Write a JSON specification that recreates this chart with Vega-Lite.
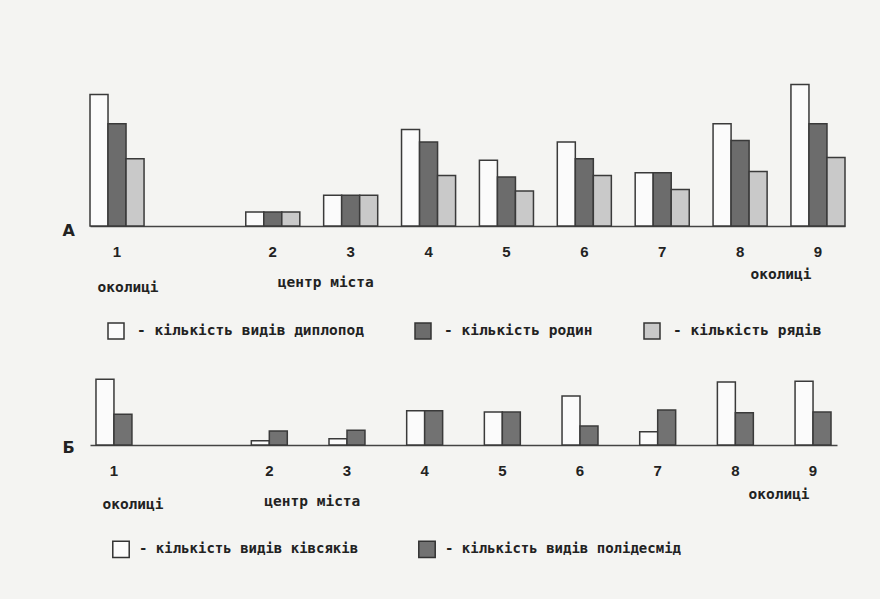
{
  "$schema": "https://vega.github.io/schema/vega-lite/v6.json",
  "background": "#f4f4f2",
  "padding": {"left": 62, "top": 79, "right": 35, "bottom": 38},
  "spacing": 33,
  "datasets": {
    "A": [
      {"site": "1", "series": "кількість видів диплопод", "value": 9.4},
      {"site": "1", "series": "кількість родин", "value": 7.3},
      {"site": "1", "series": "кількість рядів", "value": 4.8},
      {"site": "2", "series": "кількість видів диплопод", "value": 1.0},
      {"site": "2", "series": "кількість родин", "value": 1.0},
      {"site": "2", "series": "кількість рядів", "value": 1.0},
      {"site": "3", "series": "кількість видів диплопод", "value": 2.2},
      {"site": "3", "series": "кількість родин", "value": 2.2},
      {"site": "3", "series": "кількість рядів", "value": 2.2},
      {"site": "4", "series": "кількість видів диплопод", "value": 6.9},
      {"site": "4", "series": "кількість родин", "value": 6.0},
      {"site": "4", "series": "кількість рядів", "value": 3.6},
      {"site": "5", "series": "кількість видів диплопод", "value": 4.7},
      {"site": "5", "series": "кількість родин", "value": 3.5},
      {"site": "5", "series": "кількість рядів", "value": 2.5},
      {"site": "6", "series": "кількість видів диплопод", "value": 6.0},
      {"site": "6", "series": "кількість родин", "value": 4.8},
      {"site": "6", "series": "кількість рядів", "value": 3.6},
      {"site": "7", "series": "кількість видів диплопод", "value": 3.8},
      {"site": "7", "series": "кількість родин", "value": 3.8},
      {"site": "7", "series": "кількість рядів", "value": 2.6},
      {"site": "8", "series": "кількість видів диплопод", "value": 7.3},
      {"site": "8", "series": "кількість родин", "value": 6.1},
      {"site": "8", "series": "кількість рядів", "value": 3.9},
      {"site": "9", "series": "кількість видів диплопод", "value": 10.1},
      {"site": "9", "series": "кількість родин", "value": 7.3},
      {"site": "9", "series": "кількість рядів", "value": 4.9}
    ],
    "B": [
      {"site": "1", "series": "кількість видів ківсяків", "value": 9.4},
      {"site": "1", "series": "кількість видів полідесмід", "value": 4.4},
      {"site": "2", "series": "кількість видів ківсяків", "value": 0.6},
      {"site": "2", "series": "кількість видів полідесмід", "value": 2.0},
      {"site": "3", "series": "кількість видів ківсяків", "value": 0.9},
      {"site": "3", "series": "кількість видів полідесмід", "value": 2.1},
      {"site": "4", "series": "кількість видів ківсяків", "value": 4.9},
      {"site": "4", "series": "кількість видів полідесмід", "value": 4.9},
      {"site": "5", "series": "кількість видів ківсяків", "value": 4.7},
      {"site": "5", "series": "кількість видів полідесмід", "value": 4.7},
      {"site": "6", "series": "кількість видів ківсяків", "value": 7.0},
      {"site": "6", "series": "кількість видів полідесмід", "value": 2.7},
      {"site": "7", "series": "кількість видів ківсяків", "value": 1.9},
      {"site": "7", "series": "кількість видів полідесмід", "value": 5.0},
      {"site": "8", "series": "кількість видів ківсяків", "value": 9.0},
      {"site": "8", "series": "кількість видів полідесмід", "value": 4.6},
      {"site": "9", "series": "кількість видів ківсяків", "value": 9.1},
      {"site": "9", "series": "кількість видів полідесмід", "value": 4.7}
    ],
    "notes": [
      {"site": "1", "note": "околиці"},
      {"site": "2", "note": "центр міста"},
      {"site": "9", "note": "околиці"}
    ]
  },
  "vconcat": [
    {
      "width": 755,
      "height": 147,
      "layer": [
        {
          "data": {"name": "A"},
          "mark": {"type": "bar", "stroke": "#3a3a3a", "strokeWidth": 1.5},
          "encoding": {
            "x": {
              "field": "site", "type": "nominal",
              "scale": {"domain": ["1", "gap", "2", "3", "4", "5", "6", "7", "8", "9"], "paddingInner": 0.306, "paddingOuter": 0},
              "axis": {"title": null, "ticks": false, "labelAngle": 0, "labelPadding": 18, "labelFont": "Liberation Sans", "labelFontWeight": "bold", "labelFontSize": 15, "labelColor": "#222", "domainColor": "#444", "domainWidth": 1.6, "labelExpr": "datum.value === 'gap' ? '' : datum.value"}
            },
            "xOffset": {"field": "series", "type": "nominal", "scale": {"domain": ["кількість видів диплопод", "кількість родин", "кількість рядів"], "paddingInner": 0, "paddingOuter": 0}},
            "y": {
              "field": "value", "type": "quantitative",
              "scale": {"domain": [0, 10.5], "nice": false},
              "axis": {"title": "А", "labels": false, "ticks": false, "domain": false, "grid": false, "titleAngle": 0, "titleAlign": "left", "titleBaseline": "middle", "titleX": -28, "titleY": 151, "titleFont": "DejaVu Sans", "titleFontSize": 16, "titleFontWeight": "bold", "titleColor": "#222"}
            },
            "color": {
              "field": "series", "type": "nominal",
              "scale": {"domain": ["кількість видів диплопод", "кількість родин", "кількість рядів"], "range": ["#fbfbfb", "#6c6c6c", "#c9c9c9"]},
              "legend": {"title": null, "orient": "none", "legendX": 17, "legendY": 243, "direction": "horizontal", "symbolType": "square", "symbolSize": 256, "symbolStrokeColor": "#333", "symbolStrokeWidth": 1.5, "symbolOpacity": 1, "labelFont": "DejaVu Sans Mono", "labelFontWeight": "bold", "labelFontSize": 14.5, "labelColor": "#222", "labelLimit": 500, "labelOffset": 12, "columnPadding": 48, "padding": 0, "labelExpr": "'- ' + datum.label"}
            }
          }
        },
        {
          "data": {"name": "notes"},
          "transform": [{"filter": "datum.site == '1'"}],
          "mark": {"type": "text", "dx": 11, "font": "DejaVu Sans Mono", "fontWeight": "bold", "fontSize": 14.5, "color": "#222", "baseline": "middle"},
          "encoding": {"x": {"field": "site", "type": "nominal"}, "y": {"datum": -4.4}, "text": {"field": "note"}}
        },
        {
          "data": {"name": "notes"},
          "transform": [{"filter": "datum.site == '2'"}],
          "mark": {"type": "text", "dx": 53, "font": "DejaVu Sans Mono", "fontWeight": "bold", "fontSize": 14.5, "color": "#222", "baseline": "middle"},
          "encoding": {"x": {"field": "site", "type": "nominal"}, "y": {"datum": -4.1}, "text": {"field": "note"}}
        },
        {
          "data": {"name": "notes"},
          "transform": [{"filter": "datum.site == '9'"}],
          "mark": {"type": "text", "dx": -37, "font": "DejaVu Sans Mono", "fontWeight": "bold", "fontSize": 14.5, "color": "#222", "baseline": "middle"},
          "encoding": {"x": {"field": "site", "type": "nominal"}, "y": {"datum": -3.5}, "text": {"field": "note"}}
        }
      ]
    },
    {
      "width": 747,
      "height": 70,
      "layer": [
        {
          "data": {"name": "B"},
          "mark": {"type": "bar", "stroke": "#3a3a3a", "strokeWidth": 1.5},
          "encoding": {
            "x": {
              "field": "site", "type": "nominal",
              "scale": {"domain": ["1", "gap", "2", "3", "4", "5", "6", "7", "8", "9"], "paddingInner": 0.537, "paddingOuter": 0.077},
              "axis": {"title": null, "ticks": false, "labelAngle": 0, "labelPadding": 18, "labelFont": "Liberation Sans", "labelFontWeight": "bold", "labelFontSize": 15, "labelColor": "#222", "domainColor": "#444", "domainWidth": 1.6, "labelExpr": "datum.value === 'gap' ? '' : datum.value"}
            },
            "xOffset": {"field": "series", "type": "nominal", "scale": {"domain": ["кількість видів ківсяків", "кількість видів полідесмід"], "paddingInner": 0, "paddingOuter": 0}},
            "y": {
              "field": "value", "type": "quantitative",
              "scale": {"domain": [0, 10], "nice": false},
              "axis": {"title": "Б", "labels": false, "ticks": false, "domain": false, "grid": false, "titleAngle": 0, "titleAlign": "left", "titleBaseline": "middle", "titleX": -28, "titleY": 72, "titleFont": "DejaVu Sans", "titleFontSize": 16, "titleFontWeight": "bold", "titleColor": "#222"}
            },
            "color": {
              "field": "series", "type": "nominal",
              "scale": {"domain": ["кількість видів ківсяків", "кількість видів полідесмід"], "range": ["#fbfbfb", "#727272"]},
              "legend": {"title": null, "orient": "none", "legendX": 22, "legendY": 165, "direction": "horizontal", "symbolType": "square", "symbolSize": 270, "symbolStrokeColor": "#333", "symbolStrokeWidth": 1.5, "symbolOpacity": 1, "labelFont": "DejaVu Sans Mono", "labelFontWeight": "bold", "labelFontSize": 14, "labelColor": "#222", "labelLimit": 500, "labelOffset": 9, "columnPadding": 56, "padding": 0, "labelExpr": "'- ' + datum.label"}
            }
          }
        },
        {
          "data": {"name": "notes"},
          "transform": [{"filter": "datum.site == '1'"}],
          "mark": {"type": "text", "dx": 19, "font": "DejaVu Sans Mono", "fontWeight": "bold", "fontSize": 14.5, "color": "#222", "baseline": "middle"},
          "encoding": {"x": {"field": "site", "type": "nominal"}, "y": {"datum": -8.6}, "text": {"field": "note"}}
        },
        {
          "data": {"name": "notes"},
          "transform": [{"filter": "datum.site == '2'"}],
          "mark": {"type": "text", "dx": 43, "font": "DejaVu Sans Mono", "fontWeight": "bold", "fontSize": 14.5, "color": "#222", "baseline": "middle"},
          "encoding": {"x": {"field": "site", "type": "nominal"}, "y": {"datum": -8.2}, "text": {"field": "note"}}
        },
        {
          "data": {"name": "notes"},
          "transform": [{"filter": "datum.site == '9'"}],
          "mark": {"type": "text", "dx": -34, "font": "DejaVu Sans Mono", "fontWeight": "bold", "fontSize": 14.5, "color": "#222", "baseline": "middle"},
          "encoding": {"x": {"field": "site", "type": "nominal"}, "y": {"datum": -7.2}, "text": {"field": "note"}}
        }
      ]
    }
  ],
  "resolve": {
    "scale": {"color": "independent", "x": "independent", "y": "independent", "xOffset": "independent"},
    "legend": {"color": "independent"}
  },
  "config": {
    "view": {"stroke": null},
    "axis": {"grid": false},
    "font": "DejaVu Sans"
  }
}
